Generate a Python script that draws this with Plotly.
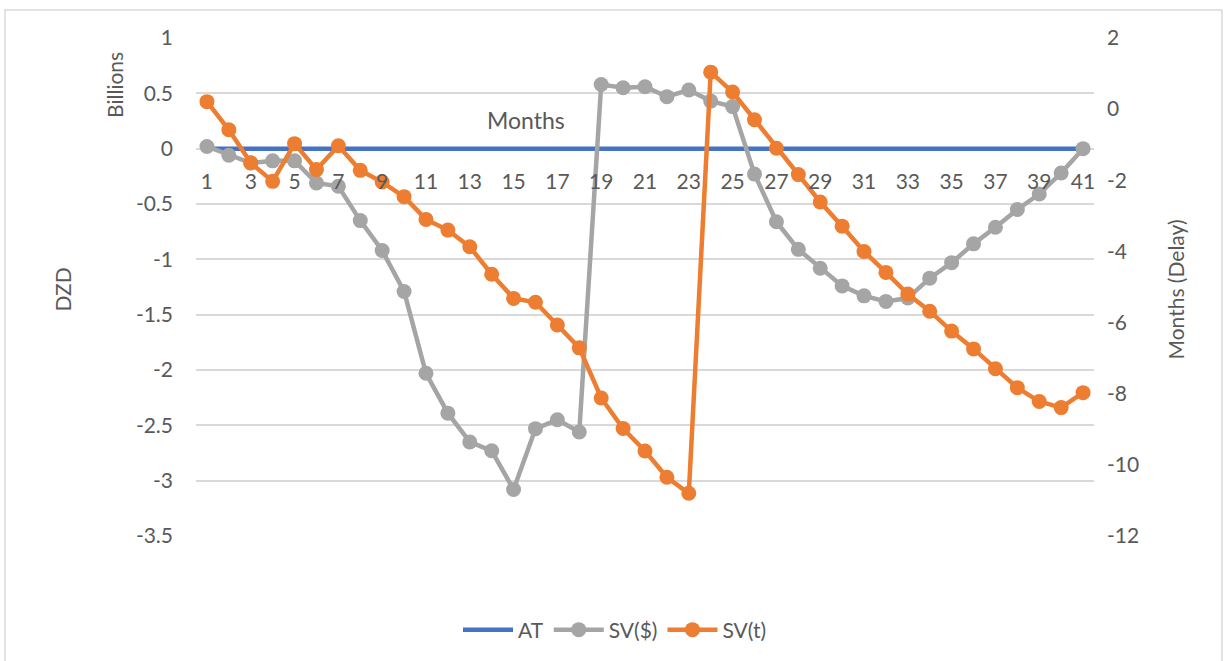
import plotly.graph_objects as go

months = list(range(1, 42))
at_values = [0] * 41
sv_dollar = [0.02, -0.06, -0.13, -0.11, -0.11, -0.31, -0.34, -0.65, -0.92, -1.29,
             -2.03, -2.39, -2.65, -2.73, -3.08, -2.53, -2.45, -2.56, 0.58, 0.55,
             0.56, 0.47, 0.53, 0.43, 0.38, -0.23, -0.66, -0.91, -1.08, -1.24,
             -1.33, -1.38, -1.35, -1.17, -1.03, -0.86, -0.71, -0.55, -0.41, -0.22, 0.0]
sv_time = [0.21, -0.58, -1.51, -2.03, -0.97, -1.70, -1.03, -1.72, -2.05, -2.46,
           -3.10, -3.40, -3.87, -4.64, -5.32, -5.43, -6.07, -6.71, -8.12, -8.98,
           -9.61, -10.35, -10.80, 1.04, 0.48, -0.30, -1.10, -1.84, -2.61, -3.29,
           -4.00, -4.59, -5.20, -5.68, -6.24, -6.74, -7.30, -7.83, -8.22, -8.39, -7.97]

left_ticks = [1, 0.5, 0, -0.5, -1, -1.5, -2, -2.5, -3, -3.5]
right_ticks = [2, 0, -2, -4, -6, -8, -10, -12]
x_ticks = list(range(1, 42, 2))

FONT = "Lato"
TXT = "#595959"
FS = 21
W, H = 1224, 661
L, R, T, B = 196, 1094, 38, 537

fig = go.Figure()
fig.add_trace(go.Scatter(x=months, y=at_values, name="AT", mode="lines",
                         line=dict(color="#4472C4", width=4.5), yaxis="y"))
fig.add_trace(go.Scatter(x=months, y=sv_dollar, name="SV($)", mode="lines+markers",
                         line=dict(color="#A5A5A5", width=4.5),
                         marker=dict(color="#A5A5A5", size=15), yaxis="y"))
fig.add_trace(go.Scatter(x=months, y=sv_time, name="SV(t)", mode="lines+markers",
                         line=dict(color="#ED7D31", width=4.5),
                         marker=dict(color="#ED7D31", size=15), yaxis="y2"))

ph = B - T
zero_frac = (0 - (-3.5)) / (1 - (-3.5))

def py(pix):
    return (B - pix) / ph

def px(pix):
    return (pix - L) / (R - L)

def label(text, x, y, angle=0, size=FS):
    return dict(text=text, x=px(x), y=py(y), xref="paper", yref="paper",
                xanchor="center", yanchor="middle", showarrow=False,
                textangle=angle, font=dict(size=size, color=TXT))

fig.update_layout(
    width=W, height=H,
    margin=dict(l=L, r=W - R, t=T, b=H - B),
    paper_bgcolor="white", plot_bgcolor="white",
    font=dict(family=FONT, size=FS, color=TXT),
    showlegend=True,
    legend=dict(orientation="h", x=px(615), xanchor="center", y=py(630), yanchor="middle",
                font=dict(size=FS, color=TXT), itemwidth=50),
    xaxis=dict(range=[0.5, 41.5], tickmode="array", tickvals=x_ticks,
               ticktext=[str(v) for v in x_ticks],
               anchor="free", position=zero_frac, showgrid=False, zeroline=False,
               showline=False, ticks="", tickfont=dict(size=FS, color=TXT),
               ticklabelstandoff=18),
    yaxis=dict(range=[-3.5, 1], tickmode="array", tickvals=left_ticks,
               ticktext=[f"{v:g}" for v in left_ticks],
               showgrid=True, gridcolor="#D9D9D9", gridwidth=1.5, zeroline=False,
               showline=False, ticks="", tickfont=dict(size=FS, color=TXT),
               ticklabelstandoff=22),
    yaxis2=dict(range=[-12, 2], tickmode="array", tickvals=right_ticks,
                ticktext=[str(v) for v in right_ticks],
                overlaying="y", side="right", showgrid=False, zeroline=False,
                showline=False, ticks="", tickfont=dict(size=FS, color=TXT),
                ticklabelstandoff=12),
    annotations=[
        label("Months", 526, 120, size=23),
        label("Billions", 115, 85, angle=-90),
        label("DZD", 62, 290, angle=-90),
        label("Months (Delay)", 1175, 290, angle=-90),
    ],
    shapes=[dict(type="rect", xref="paper", yref="paper",
                 x0=px(5), x1=px(1222), y0=py(665), y1=py(10),
                 line=dict(color="#D9D9D9", width=1.5), fillcolor="rgba(0,0,0,0)",
                 layer="below")],
)

fig.write_html("out.html")
